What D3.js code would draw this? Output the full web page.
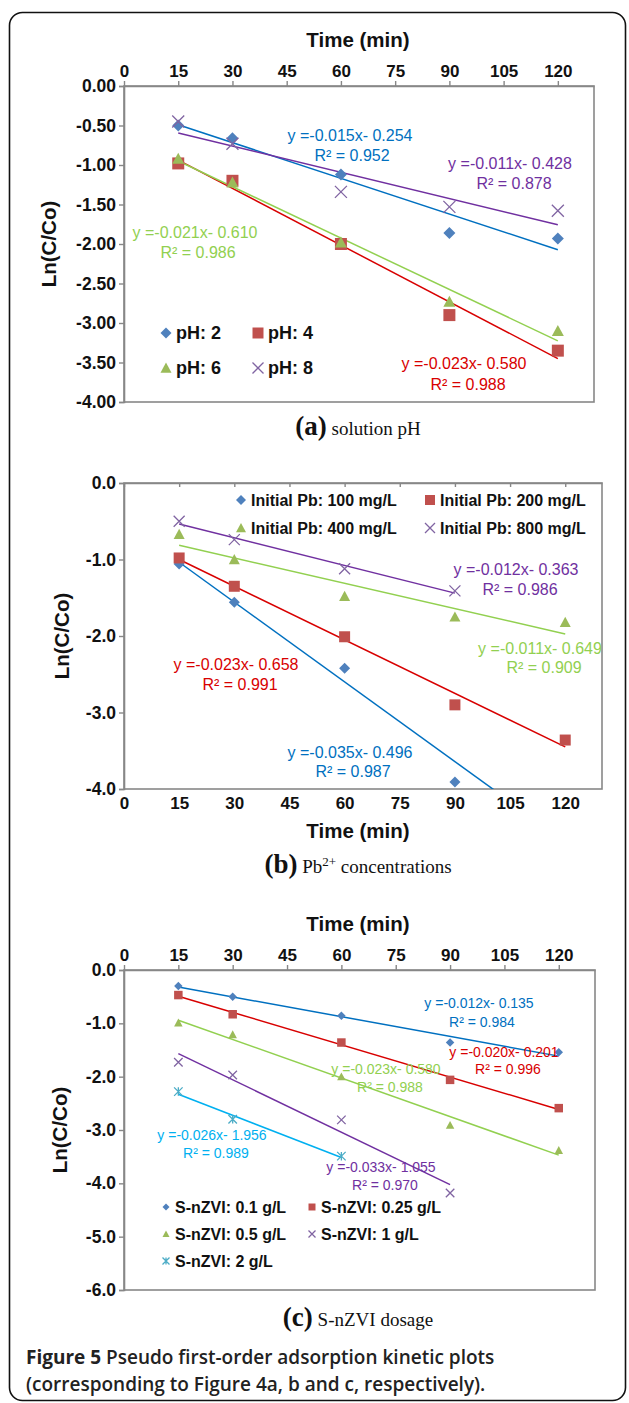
<!DOCTYPE html>
<html>
<head>
<meta charset="utf-8">
<script src="https://cdn.jsdelivr.net/npm/d3@7"></script>
<style>
  body { margin: 0; background: #fff; }
  svg { display: block; }
</style>
</head>
<body>
<script>
// x axis shared by the three panels
const timeTicks = [0, 15, 30, 45, 60, 75, 90, 105, 120];

// (a) solution pH
const phNames = ["pH: 2", "pH: 4", "pH: 6", "pH: 8"];
const phTimes = [[15, 30, 60, 90, 120], [15, 30, 60, 90, 120], [15, 30, 60, 90, 120], [15, 30, 60, 90, 120]];
const phValues = [
  [-0.50, -0.66, -1.12, -1.86, -1.93],
  [-0.98, -1.20, -2.00, -2.90, -3.35],
  [-0.92, -1.22, -1.98, -2.73, -3.10],
  [-0.45, -0.73, -1.34, -1.53, -1.58]
];
const phEq = ["y =-0.015x- 0.254", "y =-0.023x- 0.580", "y =-0.021x- 0.610", "y =-0.011x- 0.428"];
const phR2 = ["R² = 0.952", "R² = 0.988", "R² = 0.986", "R² = 0.878"];
const phTicks = [0, -0.5, -1, -1.5, -2, -2.5, -3, -3.5, -4];

// (b) Pb2+ concentrations (the 120 min point of 100 mg/L lies below the axis)
const pbNames = ["Initial Pb: 100 mg/L", "Initial Pb: 200 mg/L", "Initial Pb: 400 mg/L", "Initial Pb: 800 mg/L"];
const pbTimes = [[15, 30, 60, 90, 120], [15, 30, 60, 90, 120], [15, 30, 60, 90, 120], [15, 30, 60, 90]];
const pbValues = [
  [-1.06, -1.56, -2.42, -3.91, -4.57],
  [-0.98, -1.35, -2.01, -2.90, -3.36],
  [-0.67, -1.00, -1.48, -1.75, -1.82],
  [-0.50, -0.74, -1.12, -1.41]
];
const pbEq = ["y =-0.035x- 0.496", "y =-0.023x- 0.658", "y =-0.011x- 0.649", "y =-0.012x- 0.363"];
const pbR2 = ["R² = 0.987", "R² = 0.991", "R² = 0.909", "R² = 0.986"];
const pbTicks = [0, -1, -2, -3, -4];

// (c) S-nZVI dosage
const dzNames = ["S-nZVI: 0.1 g/L", "S-nZVI: 0.25 g/L", "S-nZVI: 0.5 g/L", "S-nZVI: 1 g/L", "S-nZVI: 2 g/L"];
const dzTimes = [[15, 30, 60, 90, 120], [15, 30, 60, 90, 120], [15, 30, 60, 90, 120], [15, 30, 60, 90], [15, 30, 60]];
const dzValues = [
  [-0.30, -0.50, -0.86, -1.36, -1.54],
  [-0.47, -0.83, -1.36, -2.06, -2.59],
  [-0.99, -1.21, -2.00, -2.91, -3.38],
  [-1.73, -1.97, -2.81, -4.18],
  [-2.28, -2.80, -3.49]
];
const dzEq = ["y =-0.012x- 0.135", "y =-0.020x- 0.201", "y =-0.023x- 0.580", "y =-0.033x- 1.055", "y =-0.026x- 1.956"];
const dzR2 = ["R² = 0.984", "R² = 0.996", "R² = 0.988", "R² = 0.970", "R² = 0.989"];
const dzTicks = [0, -1, -2, -3, -4, -5, -6];

// styles
const shapes = ["diamond", "square", "triangle", "cross", "star"];
const markerColors = ["#4F81BD", "#C0504D", "#9BBB59", "#8064A2", "#4BACC6"];
const lineColors = ["#0070C0", "#D80000", "#92D050", "#7030A0", "#00B0F0"];
const sans = "'Liberation Sans', Arial, sans-serif";
const serif = "'Liberation Serif', 'Times New Roman', serif";

const W = 629, H = 1403;
const svg = d3.select("body").append("svg")
  .attr("width", W).attr("height", H)
  .attr("viewBox", `0 0 ${W} ${H}`);

svg.append("rect")
  .attr("x", 0).attr("y", 0).attr("width", W).attr("height", H)
  .attr("fill", "white");

// outer frame
svg.append("rect")
  .attr("x", 9.5).attr("y", 12.5).attr("width", 616).attr("height", 1388)
  .attr("rx", 13)
  .attr("fill", "none").attr("stroke", "#111").attr("stroke-width", 1.6);

// least squares fit
function fit(xs, ys) {
  const mx = d3.mean(xs), my = d3.mean(ys);
  const sxy = d3.sum(xs, (x, i) => (x - mx) * (ys[i] - my));
  const sxx = d3.sum(xs, x => (x - mx) * (x - mx));
  const m = sxy / sxx;
  return { m: m, b: my - m * mx };
}

function markerPath(shape, s) {
  const h = s / 2;
  if (shape === "diamond") return `M0,${-h}L${h},0L0,${h}L${-h},0Z`;
  if (shape === "square") return `M${-h},${-h}H${h}V${h}H${-h}Z`;
  if (shape === "triangle") return `M0,${-h}L${h},${h * 0.85}L${-h},${h * 0.85}Z`;
  if (shape === "cross") return `M${-h},${-h}L${h},${h}M${h},${-h}L${-h},${h}`;
  return `M${-h},${-h}L${h},${h}M${h},${-h}L${-h},${h}M0,${-h}V${h}`;
}

function drawMarker(g, i, x, y, s) {
  const stroked = shapes[i] === "cross" || shapes[i] === "star";
  g.append("path")
    .attr("transform", `translate(${x},${y})`)
    .attr("d", markerPath(shapes[i], s))
    .attr("fill", stroked ? "none" : markerColors[i])
    .attr("stroke", stroked ? markerColors[i] : "none")
    .attr("stroke-width", stroked ? 1.3 : 0);
}

let clipId = 0;
function drawPanel(p) {
  const g = svg.append("g");
  const x = d3.scaleLinear().domain([0, 130]).range([p.left, p.right]);
  const y = d3.scaleLinear().domain([0, p.yTicks[p.yTicks.length - 1]]).range([p.top, p.bottom]);

  // plot box
  g.append("rect")
    .attr("x", p.left).attr("y", p.top)
    .attr("width", p.right - p.left).attr("height", p.bottom - p.top)
    .attr("fill", "white").attr("stroke", "#878787").attr("stroke-width", 1.6);

  // y axis
  const yAxis = g.append("g")
    .attr("transform", `translate(${p.left},0)`)
    .call(d3.axisLeft(y).tickValues(p.yTicks).tickSize(5).tickPadding(3)
      .tickFormat(v => v.toFixed(p.digits)));
  yAxis.select(".domain").attr("stroke", "#878787").attr("stroke-width", 1.6);
  yAxis.selectAll(".tick line").attr("stroke", "#878787").attr("stroke-width", 1.4);
  yAxis.selectAll(".tick text")
    .attr("font-family", sans).attr("font-weight", "bold").attr("font-size", 17.5).attr("fill", "#111");

  // x axis at the top (y = 0)
  const xAxis = g.append("g")
    .attr("transform", `translate(0,${p.top})`)
    .call(d3.axisTop(x).tickValues(timeTicks)
      .tickSizeInner(p.xTicksDown ? -4 : 5).tickSizeOuter(0).tickFormat(d3.format("d")));
  xAxis.select(".domain").attr("stroke", "#878787").attr("stroke-width", 1.6);
  xAxis.selectAll(".tick line").attr("stroke", "#878787").attr("stroke-width", 1.4);
  xAxis.selectAll(".tick text")
    .attr("y", null).attr("dy", null)
    .attr("transform", `translate(0,${p.xLabelY - p.top})`)
    .attr("dominant-baseline", "central")
    .attr("font-family", sans).attr("font-weight", "bold").attr("font-size", 17).attr("fill", "#111");

  // axis titles
  g.append("text")
    .attr("x", 358).attr("y", p.xTitleY)
    .attr("text-anchor", "middle").attr("dominant-baseline", "central")
    .attr("font-family", sans).attr("font-weight", "bold").attr("font-size", 20.5).attr("fill", "#111")
    .text("Time (min)");
  g.append("text")
    .attr("transform", `translate(${p.yTitleX},${(p.top + p.bottom) / 2}) rotate(-90)`)
    .attr("text-anchor", "middle").attr("dominant-baseline", "central")
    .attr("font-family", sans).attr("font-weight", "bold").attr("font-size", 20.5).attr("fill", "#111")
    .text("Ln(C/Co)");

  // clip to the plot area
  const id = "clip" + (clipId++);
  g.append("clipPath").attr("id", id)
    .append("rect")
    .attr("x", p.left).attr("y", p.top)
    .attr("width", p.right - p.left).attr("height", p.bottom - p.top);
  const plot = g.append("g").attr("clip-path", `url(#${id})`);

  // trend lines
  p.values.forEach((vals, i) => {
    const ts = p.times[i];
    const f = fit(ts, vals);
    const ends = [ts[0], ts[ts.length - 1]];
    plot.append("path")
      .attr("d", d3.line().x(t => x(t)).y(t => y(f.m * t + f.b))(ends))
      .attr("fill", "none").attr("stroke", lineColors[i]).attr("stroke-width", 1.5);
  });

  // points
  p.values.forEach((vals, i) => {
    vals.forEach((v, j) => drawMarker(plot, i, x(p.times[i][j]), y(v), p.markerSize));
  });

  // equations
  p.eq.forEach((e, i) => {
    g.append("text")
      .attr("x", p.eqPos[i][0]).attr("y", p.eqPos[i][1])
      .attr("text-anchor", "middle").attr("dominant-baseline", "central")
      .attr("font-family", sans).attr("font-size", p.eqSize).attr("fill", lineColors[i])
      .text(e);
    g.append("text")
      .attr("x", p.r2Pos[i][0]).attr("y", p.r2Pos[i][1])
      .attr("text-anchor", "middle").attr("dominant-baseline", "central")
      .attr("font-family", sans).attr("font-size", p.eqSize).attr("fill", lineColors[i])
      .text(p.r2[i]);
  });

  // legend
  p.names.forEach((n, i) => {
    const lx = p.legCols[i % 2], ly = p.legRows[Math.floor(i / 2)];
    drawMarker(g, i, lx, ly, p.legMarker);
    g.append("text")
      .attr("x", lx + p.legGap).attr("y", ly)
      .attr("dominant-baseline", "central")
      .attr("font-family", sans).attr("font-weight", "bold").attr("font-size", p.legSize).attr("fill", "#111")
      .text(n);
  });

  // panel caption
  const cap = g.append("text")
    .attr("x", 358).attr("y", p.capY)
    .attr("text-anchor", "middle")
    .attr("font-family", serif).attr("fill", "#111");
  cap.append("tspan").attr("font-weight", "bold").attr("font-size", 27).text(p.capLetter);
  p.capText.forEach(part => {
    const t = cap.append("tspan").attr("font-size", 19).text(part.t);
    if (part.sup) t.attr("baseline-shift", "super").attr("font-size", 13);
  });
}

drawPanel({
  names: phNames, times: phTimes, values: phValues, eq: phEq, r2: phR2,
  yTicks: phTicks, digits: 2,
  left: 124, right: 594, top: 86, bottom: 402,
  xLabelY: 71, xTitleY: 39, yTitleX: 48, xTicksDown: false,
  markerSize: 12, eqSize: 16,
  eqPos: [[350, 135], [464, 363], [195, 232], [510, 163]],
  r2Pos: [[352, 155], [468, 384], [198, 252], [514, 183]],
  legCols: [166, 258], legRows: [333, 368], legGap: 10, legMarker: 11, legSize: 18,
  capY: 435, capLetter: "(a)", capText: [{ t: " solution pH" }]
});

drawPanel({
  names: pbNames, times: pbTimes, values: pbValues, eq: pbEq, r2: pbR2,
  yTicks: pbTicks, digits: 1,
  left: 124, right: 602, top: 483, bottom: 789,
  xLabelY: 803, xTitleY: 830, yTitleX: 61, xTicksDown: true,
  markerSize: 11, eqSize: 16,
  eqPos: [[350, 752], [236, 664], [540, 648], [516, 569]],
  r2Pos: [[353, 771], [240, 684], [544, 667], [520, 589]],
  legCols: [241, 430], legRows: [500, 528], legGap: 10, legMarker: 10, legSize: 16,
  capY: 873, capLetter: "(b)", capText: [{ t: " Pb" }, { t: "2+", sup: true }, { t: " concentrations" }]
});

drawPanel({
  names: dzNames, times: dzTimes, values: dzValues, eq: dzEq, r2: dzR2,
  yTicks: dzTicks, digits: 1,
  left: 124, right: 595, top: 970, bottom: 1290,
  xLabelY: 955, xTitleY: 923, yTitleX: 59, xTicksDown: false,
  markerSize: 8.5, eqSize: 14,
  eqPos: [[479, 1003], [504, 1052], [386, 1069], [381, 1167], [212, 1135]],
  r2Pos: [[482, 1022], [508, 1069], [390, 1087], [385, 1185], [216, 1153]],
  legCols: [166, 312], legRows: [1207, 1234, 1261], legGap: 9, legMarker: 7, legSize: 16,
  capY: 1326, capLetter: "(c)", capText: [{ t: " S-nZVI dosage" }]
});

// figure caption
const figCap = svg.append("g")
  .attr("font-family", "'Open Sans', 'Noto Sans', sans-serif").attr("font-size", 19).attr("fill", "#222");
const l1 = figCap.append("text").attr("x", 26).attr("y", 1364);
l1.append("tspan").attr("font-weight", 700).text("Figure 5");
l1.append("tspan").attr("font-weight", 600).text(" Pseudo first-order adsorption kinetic plots");
figCap.append("text").attr("x", 26).attr("y", 1391).attr("font-weight", 600)
  .text("(corresponding to Figure 4a, b and c, respectively).");
</script>
</body>
</html>
